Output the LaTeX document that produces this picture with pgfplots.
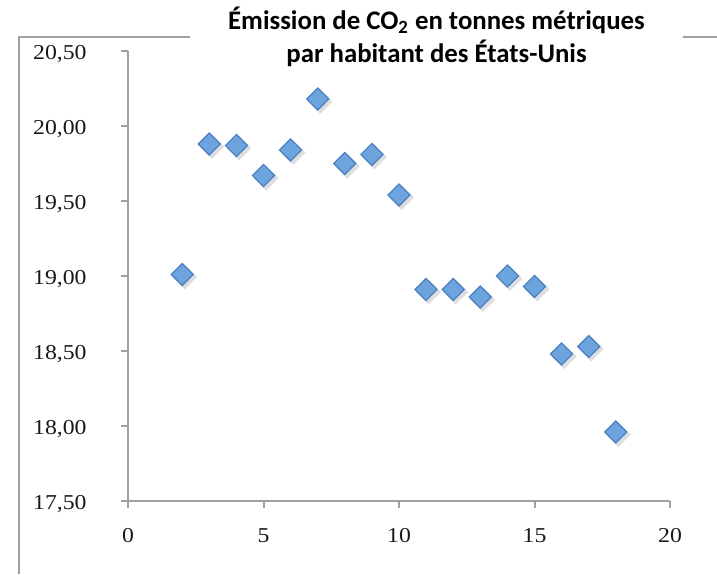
\documentclass[border=0pt]{standalone}
\usepackage{fontspec}
\setmainfont{Liberation Serif}
\newfontfamily\tickfont[FakeStretch=1.12]{Liberation Serif}
\newfontfamily\titlefont{Carlito}
\usepackage{pgfplots}
\pgfplotsset{compat=1.18}
\definecolor{axgray}{RGB}{160,160,160}
\definecolor{mfill}{RGB}{110,164,222}
\definecolor{mdraw}{RGB}{74,128,194}
\definecolor{shadow}{RGB}{222,222,222}

% CO2 per capita, USA (tonnes)
\pgfplotstableread{
x y
2 19.01
3 19.88
4 19.87
5 19.67
6 19.84
7 20.18
8 19.75
9 19.81
10 19.54
11 18.91
12 18.91
13 18.86
14 19.00
15 18.93
16 18.48
17 18.53
18 17.96
}\co

\begin{document}
\begin{tikzpicture}
\useasboundingbox (0,0) rectangle (358.5pt,287pt);
\draw[axgray, line width=1pt] (9.5pt,0) -- (9.5pt,268.5pt) -- (358.5pt,268.5pt);
\begin{axis}[
    at={(64pt,36.5pt)}, anchor=south west,
    width=271pt, height=225pt, scale only axis,
    xmin=0, xmax=20, ymin=17.5, ymax=20.5,
    xtick={0,5,10,15,20},
    ytick={17.5,18,18.5,19,19.5,20,20.5},
    axis x line*=bottom, axis y line*=left,
    axis line style={axgray, line width=1pt, -},
    tick style={axgray, line width=1pt},
    tick align=outside, major tick length=3.5pt,
    minor tick num=0,
    ticklabel style={font=\tickfont\fontsize{10.6}{12}\selectfont, text=black!90},
    /pgf/number format/assume math mode=true,
    yticklabel style={/pgf/number format/.cd, fixed, fixed zerofill, precision=2, use comma, /tikz/.cd, inner sep=0pt, anchor=east, xshift=-17pt, yshift=-1.5pt},
    xticklabel style={inner sep=0pt, anchor=north, yshift=-10pt},
    clip=false,
]
\addplot[shadow, only marks, mark=square*, mark size=4.2pt,
    mark options={rotate=45, yshift=-1.8pt}]
    table[x=x, y=y] {\co};
\addplot[only marks, mark=square*, mark size=3.9pt,
    mark options={rotate=45, fill=mfill, draw=mdraw, line width=0.6pt}]
    table[x=x, y=y] {\co};
\end{axis}
\node[fill=white, minimum width=246.5pt, inner xsep=0pt, inner ysep=2pt, align=center,
      font=\titlefont\bfseries\fontsize{13.4}{16.5}\selectfont]
    at (218.25pt,268.5pt) {Émission de CO\textsubscript{2} en tonnes métriques\\par habitant des États-Unis};
\end{tikzpicture}
\end{document}
